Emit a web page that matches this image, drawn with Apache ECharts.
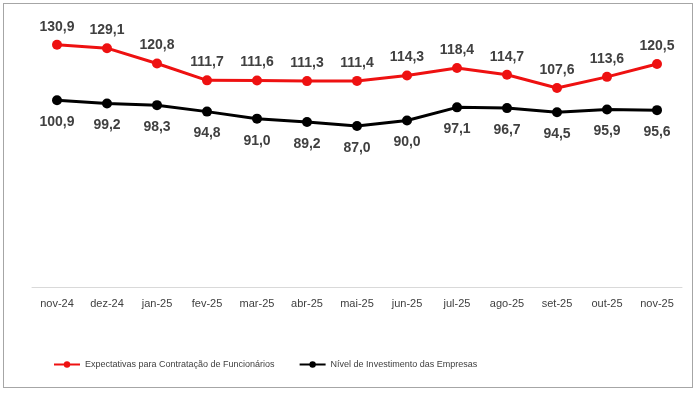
<!DOCTYPE html>
<html><head><meta charset="utf-8">
<script src="https://cdn.jsdelivr.net/npm/echarts@6/dist/echarts.min.js"></script>
<style>
html,body{margin:0;padding:0;background:#fff;}
#frame{position:absolute;left:3px;top:3px;width:688px;height:383px;border:1px solid #a6a6a6;}
#c{position:absolute;left:0;top:0;width:700px;height:395px;}
</style></head>
<body><div id="frame"></div><div id="c"></div>
<script>
var categories = ['nov-24','dez-24','jan-25','fev-25','mar-25','abr-25','mai-25','jun-25','jul-25','ago-25','set-25','out-25','nov-25'];
var expectativas = [130.9,129.1,120.8,111.7,111.6,111.3,111.4,114.3,118.4,114.7,107.6,113.6,120.5];
var investimento = [100.9,99.2,98.3,94.8,91.0,89.2,87.0,90.0,97.1,96.7,94.5,95.9,95.6];
var names = ['Expectativas para Contratação de Funcionários','Nível de Investimento das Empresas'];

var chart = echarts.init(document.getElementById('c'), null, {renderer:'canvas'});
function fmt(p){return p.value.toFixed(1).replace('.',',');}
var narrow = 'Liberation Sans Narrow, Arial Narrow, Liberation Sans, sans-serif';
chart.setOption({
  animation:false,
  grid:{left:32,right:18,top:28,bottom:108},
  xAxis:{type:'category',data:categories,boundaryGap:true,
    axisLine:{lineStyle:{color:'#d9d9d9',width:1}},axisTick:{show:false},
    axisLabel:{color:'#404040',fontSize:11,fontFamily:narrow,margin:11}},
  yAxis:{type:'value',min:0,max:140,show:false,splitLine:{show:false}},
  legend:{bottom:21,left:48,itemGap:24,itemWidth:26,itemHeight:8,
    textStyle:{color:'#404040',fontSize:9,fontFamily:narrow},
    data:names},
  series:[
    {name:names[0],type:'line',data:expectativas,symbol:'circle',symbolSize:10,
     lineStyle:{color:'#ee1111',width:3},itemStyle:{color:'#ee1111'},
     label:{show:true,position:'top',distance:6,formatter:fmt,color:'#404040',fontSize:14,fontWeight:'bold',fontFamily:'Liberation Sans, Arial, sans-serif'}},
    {name:names[1],type:'line',data:investimento,symbol:'circle',symbolSize:10,
     lineStyle:{color:'#000000',width:3},itemStyle:{color:'#000000'},
     label:{show:true,position:'bottom',distance:10,formatter:fmt,color:'#404040',fontSize:14,fontWeight:'bold',fontFamily:'Liberation Sans, Arial, sans-serif'}}
  ]
});
</script></body></html>
